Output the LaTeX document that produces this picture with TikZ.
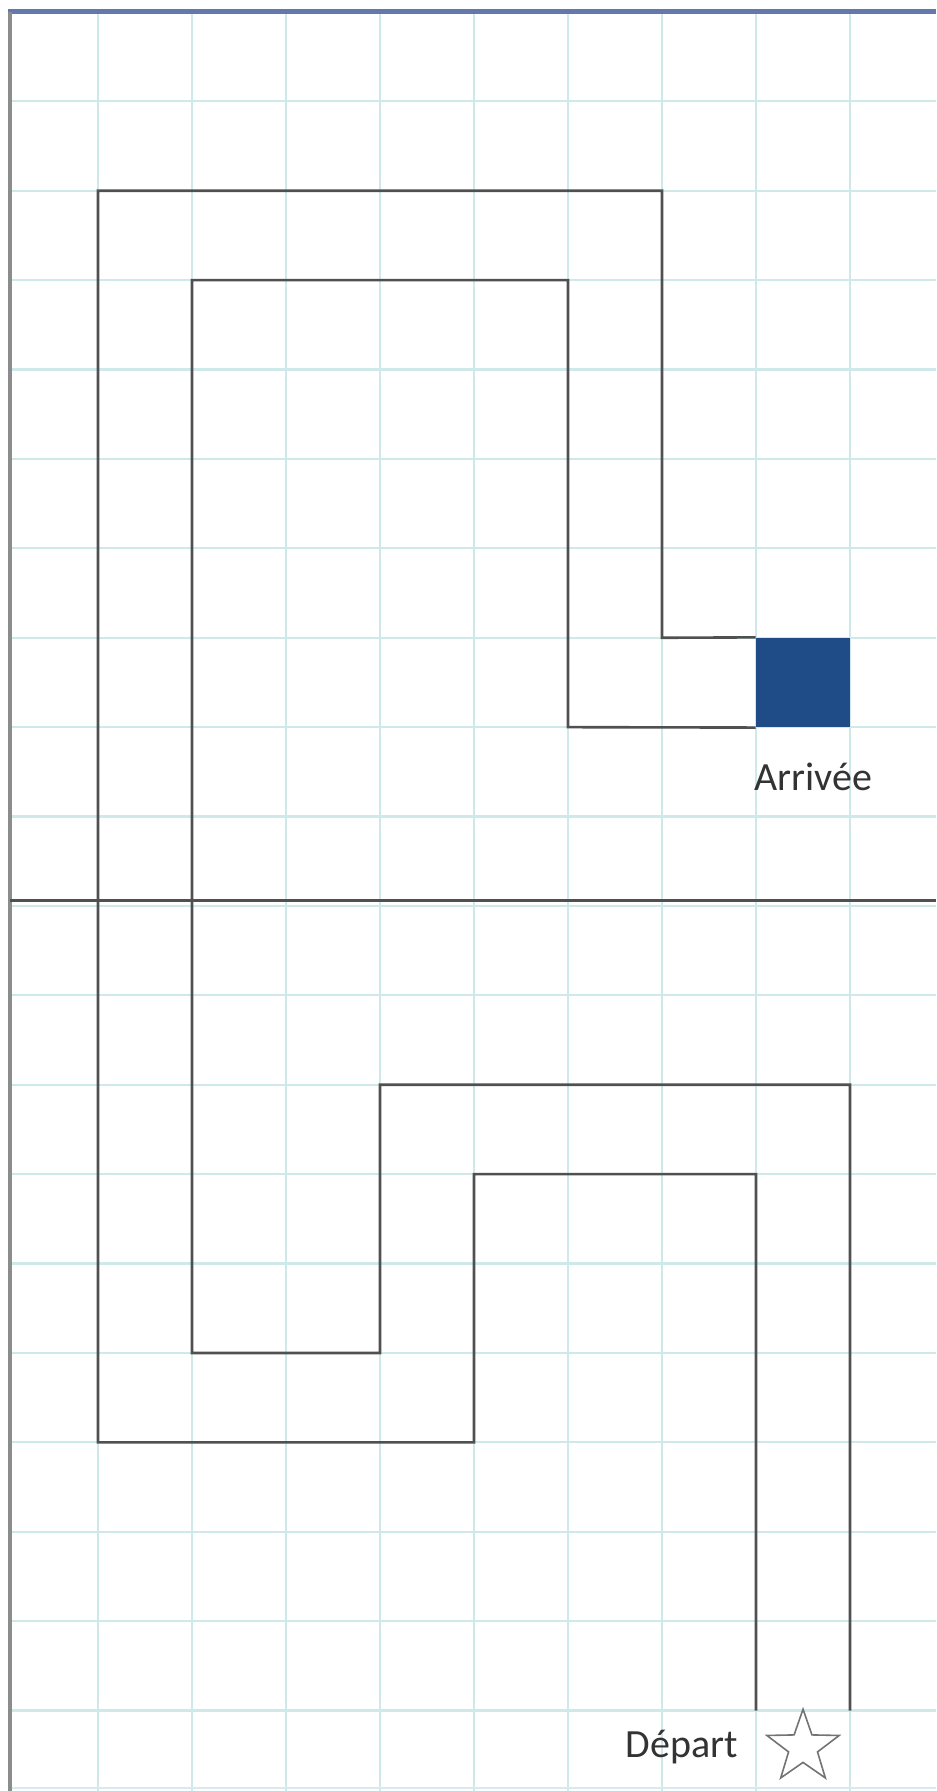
\documentclass[tikz,border=0pt]{standalone}
\usepackage{fontspec}
\setmainfont{Carlito}
\usetikzlibrary{positioning,shapes.geometric}
\definecolor{Ink}{HTML}{505050}
\definecolor{Grid}{HTML}{CFE9EB}
\definecolor{Frame}{HTML}{8C8C8C}
\definecolor{TopRule}{HTML}{6478AE}
\definecolor{PageEdge}{HTML}{D6EAF4}
\definecolor{Goal}{HTML}{1F4C87}
\tikzset{
  gridline/.style={draw=Grid,line width=1.1pt},
  mazeline/.style={draw=Ink,line width=1.3pt,line join=miter},
  tag/.style={font=\fontsize{20}{24}\selectfont,text=black!80},
  goalbox/.style={fill=Goal,minimum width=47pt,minimum height=44.7pt,inner sep=0pt},
  startstar/.style={star,star points=5,star point ratio=2.5,minimum size=38pt,inner sep=0pt,draw=Ink!80,line width=0.8pt,fill=white}
}
\begin{document}
\begin{tikzpicture}[x=47pt,y=-44.7pt]
  \useasboundingbox (-0.043,-0.134) rectangle (9.915,19.9);
  \foreach \i in {1,...,9} \draw[gridline] (\i,0) -- (\i,19.9);
  \foreach \j in {1,...,19} \draw[gridline] (0.064,\j) -- (9.915,\j);
  \draw[PageEdge,line width=1pt] (0.064,19.87) -- (9.915,19.87);
  \draw[TopRule,line width=2.5pt] (0.04,0) -- (9.915,0);
  \draw[Frame,line width=2pt] (0.064,0) -- (0.064,19.9);
  \draw[Ink,line width=1.5pt] (0.064,9.94) -- (9.915,9.94);
  \node[goalbox] (goal) at (8.5,7.5) {};
  \node[tag,below=14pt of goal,xshift=5pt] (arrivee) {Arrivée};
  \node[startstar] (start) at (8.5,19.41) {};
  \node[tag,left=18pt of start] (depart) {Départ};
  \draw[mazeline] (8,19) -- (8,13) -- (5,13) -- (5,16) -- (1,16) -- (1,2) -- (7,2) -- (7,7) -- (goal.north west);
  \draw[mazeline] (9,19) -- (9,12) -- (4,12) -- (4,15) -- (2,15) -- (2,3) -- (6,3) -- (6,8) -- (goal.south west);
\end{tikzpicture}
\end{document}
